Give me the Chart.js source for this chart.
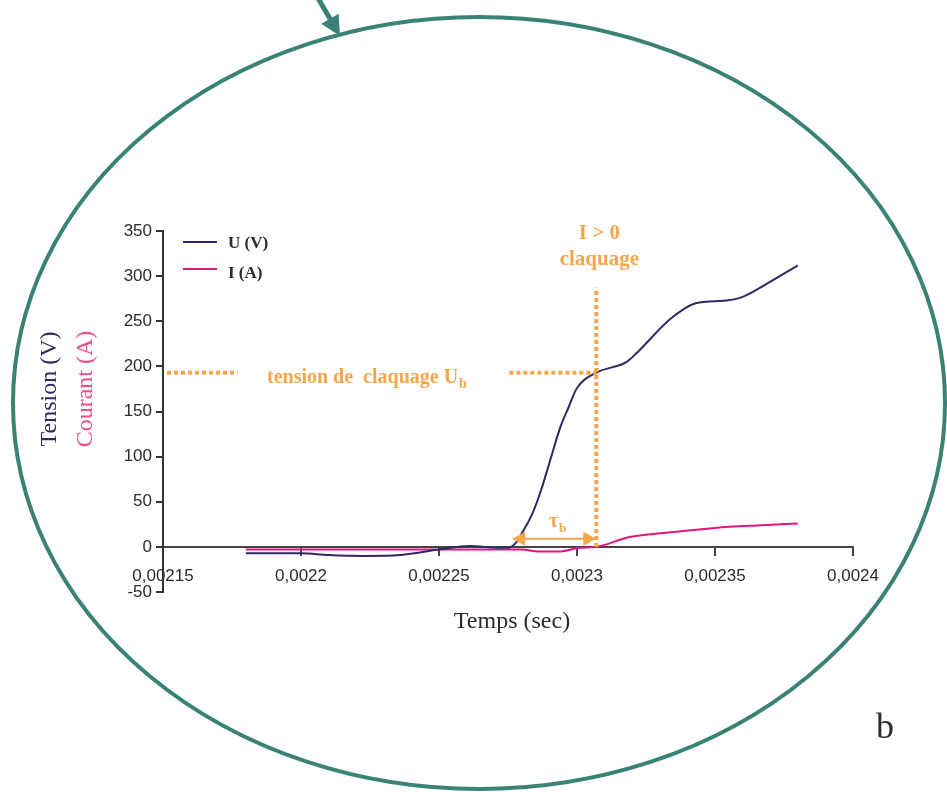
<!DOCTYPE html>
<html><head><meta charset="utf-8">
<script src="https://cdn.jsdelivr.net/npm/chart.js@4.4.0/dist/chart.umd.min.js"></script>
<style>html,body{margin:0;padding:0;background:#fff;} #wrap{width:947px;height:792px;position:relative;}</style>
</head><body><div id="wrap"><canvas id="c" width="947" height="792"></canvas></div>
<script>
// ---- data ----
const timesU = [0.00218, 0.0022, 0.00221, 0.002223, 0.002236, 0.00225, 0.002261, 0.002272, 0.002275, 0.002278, 0.00228, 0.002284, 0.002287, 0.00229, 0.002294, 0.002297, 0.0023, 0.002307, 0.002318, 0.002322, 0.002334, 0.002343, 0.002354, 0.00236, 0.002369, 0.00238];
const tensionU = [-7, -7, -9, -10, -9, -3, 1, -1, -1, 5, 15, 38, 63, 93, 133, 155, 176, 193, 205, 216, 253, 270, 273, 277, 292, 312];
const timesI = [0.00218, 0.0022, 0.00225, 0.00228, 0.002286, 0.002294, 0.002301, 0.002307, 0.002319, 0.002337, 0.00235, 0.002367, 0.00238];
const courantI = [-3, -3, -3, -3, -5, -5, -1, 0, 11, 17, 21, 24, 26];
const xTickValues = [0.00215, 0.0022, 0.00225, 0.0023, 0.00235, 0.0024];
const xTickLabels = ['0,00215', '0,0022', '0,00225', '0,0023', '0,00235', '0,0024'];
const yTickValues = [-50, 0, 50, 100, 150, 200, 250, 300, 350];
const seriesLabels = ['U (V)', 'I (A)'];
const breakdownVoltage = 193;     // U_b
const breakdownTime = 0.002307;   // I > 0
const riseStartTime = 0.0022765;  // start of tau_b

const NAVY = '#2B2A62', PINK = '#E5137E', ORANGE = '#F5A54A', TEAL = '#3B8276', INK = '#2C2C2C';

function seg(ctx, x1, y1, x2, y2) { ctx.beginPath(); ctx.moveTo(x1, y1); ctx.lineTo(x2, y2); ctx.stroke(); }
function tri(ctx, tx, ty, dx, dy, len, half) {
  const bx = tx - dx * len, by = ty - dy * len;
  ctx.beginPath(); ctx.moveTo(tx, ty);
  ctx.lineTo(bx - dy * half, by + dx * half);
  ctx.lineTo(bx + dy * half, by - dx * half);
  ctx.closePath(); ctx.fill();
}

const deco = {
  id: 'deco',
  afterDatasetsDraw(chart) {
    const { ctx, scales: { x, y }, chartArea } = chart;
    ctx.save();
    const yb = y.getPixelForValue(breakdownVoltage);
    const xb = x.getPixelForValue(breakdownTime);
    ctx.strokeStyle = ORANGE; ctx.lineWidth = 4; ctx.setLineDash([4, 3]);
    seg(ctx, chartArea.left + 4, yb, x.getPixelForValue(0.002177), yb);
    seg(ctx, x.getPixelForValue(0.0022755), yb, xb, yb);
    seg(ctx, xb, y.getPixelForValue(0), xb, y.getPixelForValue(287));
    ctx.setLineDash([]);
    // tau_b double arrow
    const ya = y.getPixelForValue(9);
    const xs = x.getPixelForValue(riseStartTime);
    ctx.lineWidth = 2; ctx.fillStyle = ORANGE;
    seg(ctx, xs + 10, ya, xb - 10, ya);
    tri(ctx, xs, ya, -1, 0, 13, 7);
    tri(ctx, xb, ya, 1, 0, 13, 7);
    // texts
    ctx.fillStyle = ORANGE;
    ctx.textBaseline = 'alphabetic'; ctx.textAlign = 'left';
    ctx.font = 'bold 20px "Liberation Serif"';
    const main = 'tension de  claquage U';
    ctx.fillText(main, 267, 383);
    const w = ctx.measureText(main).width;
    ctx.font = 'bold 14px "Liberation Serif"';
    ctx.fillText('b', 267 + w + 1, 388);
    ctx.font = 'bold 21px "Liberation Serif"';
    ctx.textAlign = 'center';
    ctx.fillText('I > 0', xb + 3, 239);
    ctx.fillText('claquage', xb + 3, 265);
    // tau_b
    ctx.font = 'bold 20px "Liberation Serif"';
    ctx.textAlign = 'left';
    ctx.fillText('\u03C4', 549, 527);
    ctx.font = 'bold 13px "Liberation Serif"';
    ctx.fillText('b', 559, 532);
    ctx.restore();
  },
  afterDraw(chart) {
    const { ctx, chartArea } = chart;
    ctx.save();
    // legend
    chart.data.datasets.forEach((ds, i) => {
      const ly = chartArea.top + 11 + i * 27;
      ctx.strokeStyle = ds.borderColor; ctx.lineWidth = 2;
      seg(ctx, 183, ly, 217, ly);
      ctx.fillStyle = INK; ctx.font = 'bold 17px "Liberation Serif"';
      ctx.textBaseline = 'middle'; ctx.textAlign = 'left';
      ctx.fillText(ds.label, 228, ly + 2 + i * 3);
    });
    // axis titles
    ctx.font = '24px "Liberation Serif"'; ctx.textAlign = 'center'; ctx.textBaseline = 'middle';
    ctx.fillStyle = INK;
    ctx.fillText('Temps (sec)', 512, 622);
    ctx.save(); ctx.translate(50, 389); ctx.rotate(-Math.PI / 2);
    ctx.fillStyle = NAVY; ctx.fillText('Tension (V)', 0, 0); ctx.restore();
    ctx.save(); ctx.translate(86, 389); ctx.rotate(-Math.PI / 2);
    ctx.fillStyle = '#EE4F8C'; ctx.fillText('Courant (A)', 0, 0); ctx.restore();
    // label b
    ctx.fillStyle = INK; ctx.font = '36px "Liberation Serif"';
    ctx.fillText('b', 885, 729);
    // ellipse + arrow
    ctx.strokeStyle = TEAL; ctx.fillStyle = TEAL; ctx.lineWidth = 4;
    ctx.beginPath(); ctx.ellipse(479, 403, 466, 386, 0, 0, Math.PI * 2); ctx.stroke();
    ctx.lineWidth = 5;
    const ax0 = 318, ay0 = -2, ax1 = 340, ay1 = 36;
    const L = Math.hypot(ax1 - ax0, ay1 - ay0), dx = (ax1 - ax0) / L, dy = (ay1 - ay0) / L;
    seg(ctx, ax0, ay0, ax1 - dx * 14, ay1 - dy * 14);
    tri(ctx, ax1, ay1, dx, dy, 20, 10);
    ctx.restore();
  }
};

const tickFont = { family: 'Liberation Sans', size: 17 };
new Chart(document.getElementById('c'), {
  type: 'line',
  data: {
    datasets: [
      { label: seriesLabels[0], data: timesU.map((t, i) => ({ x: t, y: tensionU[i] })), borderColor: NAVY, borderWidth: 2 },
      { label: seriesLabels[1], data: timesI.map((t, i) => ({ x: t, y: courantI[i] })), borderColor: PINK, borderWidth: 2 }
    ]
  },
  options: {
    responsive: false, animation: false, devicePixelRatio: 1,
    layout: { padding: { left: 100, right: 94, top: 231, bottom: 200 } },
    plugins: { legend: { display: false }, tooltip: { enabled: false } },
    elements: { point: { radius: 0 }, line: { tension: 0.4, cubicInterpolationMode: 'monotone', fill: false } },
    scales: {
      x: {
        type: 'linear', min: 0.00215, max: 0.0024, position: { y: 0 },
        afterBuildTicks: s => { s.ticks = xTickValues.map(v => ({ value: v })); },
        ticks: { callback: (v, i) => xTickLabels[i], autoSkip: false, maxRotation: 0, padding: 11, color: INK, font: tickFont },
        grid: { drawOnChartArea: false, drawTicks: true, tickLength: 8, color: '#444', lineWidth: 2 },
        border: { color: '#444', width: 2 }
      },
      y: {
        type: 'linear', min: -50, max: 350,
        afterFit: s => { s.width = 63; },
        afterBuildTicks: s => { s.ticks = yTickValues.map(v => ({ value: v })); },
        ticks: { color: INK, font: tickFont, padding: 4 },
        grid: { drawOnChartArea: false, drawTicks: true, tickLength: 7, color: '#333', lineWidth: 2 },
        border: { color: '#333', width: 2 }
      }
    }
  },
  plugins: [deco]
});
</script></body></html>
